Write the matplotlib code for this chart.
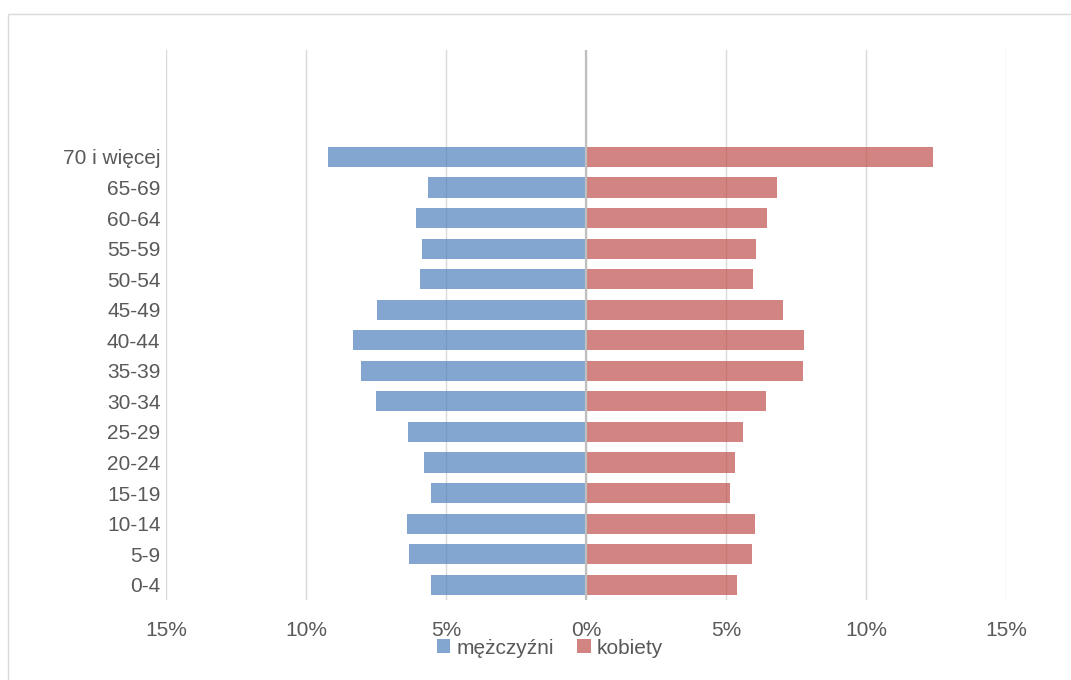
import matplotlib
matplotlib.use("Agg")
import matplotlib.pyplot as plt
from matplotlib.patches import Rectangle
from matplotlib.ticker import FuncFormatter

plt.rcParams['font.family'] = ['Liberation Sans Narrow', 'Liberation Sans', 'DejaVu Sans']

categories = ['0-4', '5-9', '10-14', '15-19', '20-24', '25-29', '30-34', '35-39',
              '40-44', '45-49', '50-54', '55-59', '60-64', '65-69', '70 i więcej']
men = [5.54, 6.31, 6.40, 5.54, 5.78, 6.37, 7.50, 8.04, 8.33, 7.45, 5.94, 5.87, 6.07, 5.64, 9.20]
women = [5.41, 5.93, 6.03, 5.16, 5.31, 5.59, 6.42, 7.74, 7.77, 7.02, 5.96, 6.06, 6.45, 6.82, 12.40]
x_ticks = [-15, -10, -5, 0, 5, 10, 15]
series_names = ['mężczyźni', 'kobiety']

W, H = 1071, 680
fig = plt.figure(figsize=(W / 100, H / 100), dpi=100)
fig.patches.append(Rectangle((8 / W, -0.01), 1.2, 1 - 14 / H + 0.01, transform=fig.transFigure,
                             fill=False, edgecolor='#D9D9D9', lw=1.0))

ax = fig.add_axes([166 / W, 1 - 600 / H, (1006 - 166) / W, (600 - 50) / H])
ypos = list(range(len(categories)))
bh = 0.66
ax.barh(ypos, [-m for m in men], height=bh, color='#4F81BD', alpha=0.7, label=series_names[0], zorder=2)
ax.barh(ypos, women, height=bh, color='#C0504D', alpha=0.7, label=series_names[1], zorder=2)

ax.set_xlim(-15, 15)
ax.set_ylim(-0.5, 17.5)
ax.set_xticks(x_ticks)
ax.xaxis.set_major_formatter(FuncFormatter(lambda v, p: f"{abs(int(round(v)))}%"))
ax.set_yticks(ypos)
ax.set_yticklabels(categories)
ax.grid(axis='x', color='#D9D9D9', lw=1.0, zorder=0)
ax.set_axisbelow(True)
ax.axvline(0, color='#BFBFBF', lw=1.6, zorder=3)
for s in ax.spines.values():
    s.set_visible(False)
ax.tick_params(axis='both', length=0, colors='#595959', labelsize=15)
ax.tick_params(axis='x', pad=15)
ax.tick_params(axis='y', pad=4)

leg = fig.legend(loc='center', bbox_to_anchor=(550 / W, 1 - 648 / H), ncol=2, frameon=False,
                 fontsize=15, handlelength=0.65, handleheight=0.65, handletextpad=0.3,
                 columnspacing=1.1, labelcolor='#595959')

fig.savefig('out.png', dpi=100)
